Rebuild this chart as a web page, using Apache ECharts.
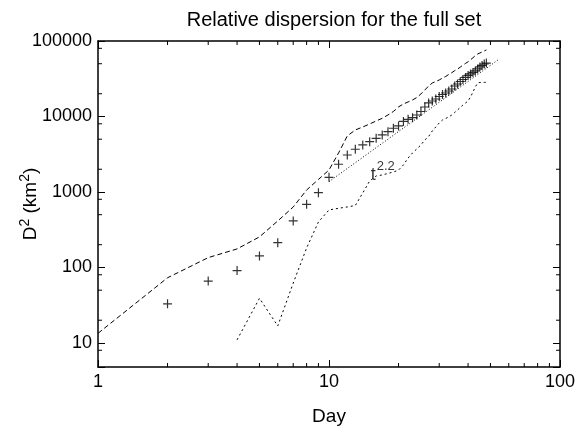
<!DOCTYPE html>
<html>
<head>
<meta charset="utf-8">
<script src="https://cdn.jsdelivr.net/npm/echarts@6/dist/echarts.min.js"></script>
<style>html,body{margin:0;padding:0;background:#fff}#c{width:578px;height:432px}</style>
</head>
<body>
<div id="c"></div>
<script>
// ---- data ----
const crossDays = [2,3,4,5,6,7,8,9,10,11,12,13,14,15,16,17,18,19,20,21,22,23,24,25,26,27,28,29,30,31,32,33,34,35,36,37,38,39,40,41,42,43,44,45,46,47,48];
const crossVals = [33,66,91,142,213,413,687,979,1565,2330,3090,3680,4195,4640,5140,5690,6290,6980,7500,8590,9180,9640,10470,11650,13350,15100,16030,17050,18400,19550,20470,21760,23130,25350,26930,29090,30900,32870,34940,36580,38300,40100,42600,45300,47400,49600,51000];

const upperDays = [1,2,3,4,5,6,7,8,9,10,11,12,13,14,15,16,17,18,19,20,21,22,23,24,25,26,27,28,29,30,31,32,33,34,35,36,37,38,39,40,41,42,43,44,45,46,47,48];
const upperVals = [13.4,73,135,176,254,413,632,1062,1465,1955,3285,5520,6630,7260,7960,8720,9460,10470,11650,13400,14650,15570,16550,17860,19870,22440,25340,27790,29100,30440,32360,33880,36000,38000,40500,42500,45000,48000,50500,53000,56500,60000,64000,67300,69400,71500,73800,76100];

const lowerDays = [4,5,6,7,8,9,10,11,12,13,14,15,16,17,18,19,20,21,22,23,24,25,26,27,28,29,30,31,32,33,34,35,36,37,38,39,40,41,42,43,44,45,46,47,48];
const lowerVals = [11,39,16.8,62,181,401,578,608,633,662,970,1400,1630,1680,1760,1840,1950,2280,2820,3290,3720,4200,4890,5430,6430,7260,8200,8990,9420,9850,10470,11300,12190,13150,14190,15090,16040,18120,21130,24620,27790,28200,28200,28300,28400];

const refDays = [10, 54.4];
const refVals = [1370, 57300];
const refLabelPos = [15.15, 1857];

const xMin = 1, xMax = 100, yMin = 4.8, yMax = 100000;
const xMinorTicks = [2,3,4,5,6,7,8,9,20,30,40,50,60,70,80,90];
const yMinorTicks = [8,20,50,80,200,500,800,2000,5000,8000,20000,50000,80000];

const titleText = 'Relative dispersion for the full set';
const FONT = 'Liberation Sans';

const chart = echarts.init(document.getElementById('c'), null, {renderer: 'canvas'});

function powLabel(v) {
  const l = Math.log10(v);
  return Math.abs(l - Math.round(l)) < 1e-6 ? String(Math.round(Math.pow(10, Math.round(l)))) : '';
}
const axLine = {lineStyle: {color: '#000', width: 1.5}};
const axTick = {inside: true, length: 7, lineStyle: {color: '#000', width: 1}};

function zip(a, b) { return a.map((v, i) => [v, b[i]]); }

chart.setOption({
  animation: false,
  backgroundColor: '#fff',
  title: {
    text: titleText, left: 329, top: 5, textAlign: 'center',
    textStyle: {fontFamily: FONT, fontSize: 20, fontWeight: 'normal', color: '#000'}
  },
  grid: {left: 98, right: 18, top: 41, bottom: 65, containLabel: false, outerBoundsMode: 'none'},
  xAxis: [
    {type: 'log', logBase: 10, min: xMin, max: xMax, position: 'bottom',
     name: 'Day', nameLocation: 'middle', nameGap: 40, nameMoveOverlap: false,
     nameTextStyle: {fontFamily: FONT, fontSize: 19, color: '#000'},
     axisLine: axLine, axisTick: axTick, splitLine: {show: false},
     axisLabel: {fontFamily: FONT, fontSize: 18, color: '#000', margin: 6, formatter: powLabel}},
    {type: 'log', logBase: 10, min: xMin, max: xMax, position: 'top',
     axisLine: axLine, axisTick: axTick, splitLine: {show: false}, axisLabel: {show: false}}
  ],
  yAxis: [
    {type: 'log', logBase: 10, min: yMin, max: yMax, position: 'left',
     name: '{b|D}{s|2}{b| (km}{s|2}{b|)}', nameLocation: 'middle', nameGap: 58, nameRotate: 90, nameMoveOverlap: false,
     nameTextStyle: {fontFamily: FONT, color: '#000',
       rich: {b: {fontFamily: FONT, fontSize: 19, color: '#000', verticalAlign: 'bottom'},
              s: {fontFamily: FONT, fontSize: 14, color: '#000', verticalAlign: 'bottom', padding: [0, 0, 8, 0]}}},
     axisLine: axLine, axisTick: axTick, splitLine: {show: false},
     axisLabel: {fontFamily: FONT, fontSize: 18, color: '#000', margin: 6, formatter: powLabel}},
    {type: 'log', logBase: 10, min: yMin, max: yMax, position: 'right',
     axisLine: axLine, axisTick: axTick, splitLine: {show: false}, axisLabel: {show: false}}
  ],
  series: [
    {type: 'line', data: zip(upperDays, upperVals), symbol: 'none',
     lineStyle: {color: '#000', width: 1, type: [5, 3]}},
    {type: 'line', data: zip(lowerDays, lowerVals), symbol: 'none',
     lineStyle: {color: '#000', width: 1, type: [2, 3]}},
    {type: 'line', data: zip(refDays, refVals), symbol: 'none',
     lineStyle: {color: '#000', width: 1, type: [1, 2]}},
    {type: 'scatter', data: zip(crossDays, crossVals),
     symbol: 'path://M4,0L4,8M0,4L8,4', symbolSize: 9,
     itemStyle: {color: 'none', borderColor: '#000', borderWidth: 1.2}},
    {type: 'scatter', data: [refLabelPos], symbolSize: 0, silent: true,
     label: {show: true, position: 'right', distance: 0, formatter: '{t|t}{s|2.2}',
       rich: {t: {fontFamily: FONT, fontSize: 18, color: '#000', verticalAlign: 'bottom'},
              s: {fontFamily: FONT, fontSize: 13, color: '#000', verticalAlign: 'bottom', padding: [0, 0, 11, 1]}}}},
    {type: 'custom', silent: true, data: xMinorTicks.map(v => [v, yMin]),
     renderItem: function (params, api) {
       const cs = params.coordSys;
       const x = api.coord([api.value(0), yMin])[0];
       const b = cs.y + cs.height, t = cs.y;
       return {type: 'group', children: [
         {type: 'line', shape: {x1: x, y1: b, x2: x, y2: b - 4}, style: {stroke: '#000', lineWidth: 1}},
         {type: 'line', shape: {x1: x, y1: t, x2: x, y2: t + 4}, style: {stroke: '#000', lineWidth: 1}}
       ]};
     }},
    {type: 'custom', silent: true, data: yMinorTicks.map(v => [xMin, v]),
     renderItem: function (params, api) {
       const cs = params.coordSys;
       const y = api.coord([xMin, api.value(1)])[1];
       const l = cs.x, r = cs.x + cs.width;
       return {type: 'group', children: [
         {type: 'line', shape: {x1: l, y1: y, x2: l + 4, y2: y}, style: {stroke: '#000', lineWidth: 1}},
         {type: 'line', shape: {x1: r, y1: y, x2: r - 4, y2: y}, style: {stroke: '#000', lineWidth: 1}}
       ]};
     }}
  ]
});
</script>
</body>
</html>
